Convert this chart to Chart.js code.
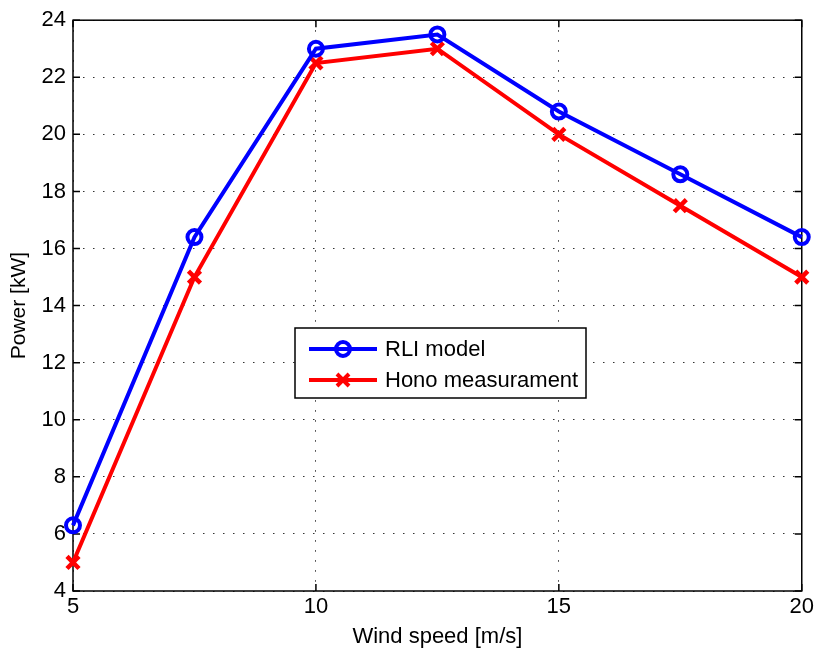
<!DOCTYPE html>
<html>
<head>
<meta charset="utf-8">
<script src="https://cdn.jsdelivr.net/npm/chart.js@4.4.1/dist/chart.umd.min.js"></script>
<style>
  html, body { margin: 0; padding: 0; background: #fff; }
  #wrap { width: 817px; height: 650px; }
</style>
</head>
<body>
<div id="wrap"><canvas id="powerChart" width="817" height="650"></canvas></div>
<script>
const windSpeed = [5, 7.5, 10, 12.5, 15, 17.5, 20];
const rliModel = [6.3, 16.4, 23.0, 23.5, 20.8, 18.6, 16.4];
const honoMeasurement = [5.0, 15.0, 22.5, 23.0, 20.0, 17.5, 15.0];
const xTicks = [5, 10, 15, 20];
const yTicks = [4, 6, 8, 10, 12, 14, 16, 18, 20, 22, 24];

const FONT = '"Liberation Sans", Arial, sans-serif';

// black box + inward ticks, MATLAB style
const boxPlugin = {
  id: 'box',
  beforeDatasetsDraw(chart) {
    const { ctx, chartArea: a, scales } = chart;
    ctx.save();
    ctx.strokeStyle = '#000';
    ctx.lineWidth = 1.5;
    ctx.setLineDash([]);
    ctx.strokeRect(a.left, a.top, a.right - a.left, a.bottom - a.top);
    const t = 7;
    ctx.beginPath();
    xTicks.forEach(v => {
      const x = scales.x.getPixelForValue(v);
      ctx.moveTo(x, a.bottom); ctx.lineTo(x, a.bottom - t);
      ctx.moveTo(x, a.top); ctx.lineTo(x, a.top + t);
    });
    yTicks.forEach(v => {
      const y = scales.y.getPixelForValue(v);
      ctx.moveTo(a.left, y); ctx.lineTo(a.left + t, y);
      ctx.moveTo(a.right, y); ctx.lineTo(a.right - t, y);
    });
    ctx.stroke();
    ctx.restore();
  }
};

// legend box inside the plot
const legendPlugin = {
  id: 'innerLegend',
  afterDraw(chart) {
    const { ctx } = chart;
    const bx = 295, by = 328, bw = 291, bh = 70;
    ctx.save();
    ctx.fillStyle = '#fff';
    ctx.fillRect(bx, by, bw, bh);
    ctx.strokeStyle = '#000';
    ctx.lineWidth = 1.5;
    ctx.strokeRect(bx, by, bw, bh);
    const rows = [349, 380];
    chart.data.datasets.forEach((ds, i) => {
      const y = rows[i];
      ctx.strokeStyle = ds.borderColor;
      ctx.lineWidth = ds.borderWidth;
      ctx.beginPath();
      ctx.moveTo(309, y); ctx.lineTo(377, y);
      ctx.stroke();
      ctx.strokeStyle = ds.pointBorderColor;
      ctx.fillStyle = ds.pointBackgroundColor;
      Chart.helpers.drawPoint(ctx, {
        pointStyle: ds.pointStyle,
        radius: ds.pointRadius,
        borderWidth: ds.pointBorderWidth
      }, 343, y);
      ctx.fillStyle = '#000';
      ctx.font = '22px ' + FONT;
      ctx.textBaseline = 'middle';
      ctx.fillText(ds.label, 385, y + 1);
    });
    ctx.restore();
  }
};

new Chart(document.getElementById('powerChart'), {
  type: 'line',
  data: {
    datasets: [
      {
        label: 'RLI model',
        data: windSpeed.map((x, i) => ({ x: x, y: rliModel[i] })),
        borderColor: '#0000ff',
        backgroundColor: 'rgba(0,0,0,0)',
        borderWidth: 4,
        pointStyle: 'circle',
        pointRadius: 7,
        pointBorderWidth: 4,
        pointBorderColor: '#0000ff',
        pointBackgroundColor: 'rgba(0,0,0,0)',
        tension: 0,
        clip: false
      },
      {
        label: 'Hono measurament',
        data: windSpeed.map((x, i) => ({ x: x, y: honoMeasurement[i] })),
        borderColor: '#ff0000',
        backgroundColor: 'rgba(0,0,0,0)',
        borderWidth: 4,
        pointStyle: 'crossRot',
        pointRadius: 8.5,
        pointBorderWidth: 4.5,
        pointBorderColor: '#ff0000',
        pointBackgroundColor: '#ff0000',
        tension: 0,
        clip: false
      }
    ]
  },
  options: {
    responsive: false,
    animation: false,
    layout: { padding: { left: 0, top: 17, right: 15, bottom: 0 } },
    plugins: {
      legend: { display: false },
      tooltip: { enabled: false }
    },
    scales: {
      x: {
        type: 'linear',
        min: 5,
        max: 20,
        afterBuildTicks(scale) { scale.ticks = xTicks.map(v => ({ value: v })); },
        afterFit(scale) { scale.height = 59; },
        grid: {
          color: '#333',
          lineWidth: 1,
          drawTicks: false
        },
        border: { display: false, dash: [1.5, 8.5] },
        ticks: {
          color: '#000',
          font: { family: FONT, size: 22 },
          padding: 3,
          maxRotation: 0
        },
        title: {
          display: true,
          text: 'Wind speed [m/s]',
          color: '#000',
          font: { family: FONT, size: 22 },
          padding: { top: 0, bottom: 0 }
        }
      },
      y: {
        min: 4,
        max: 24,
        afterBuildTicks(scale) { scale.ticks = yTicks.map(v => ({ value: v })); },
        afterFit(scale) { scale.width = 73; },
        grid: {
          color: '#333',
          lineWidth: 1,
          drawTicks: false
        },
        border: { display: false, dash: [1.5, 8.5] },
        ticks: {
          color: '#000',
          font: { family: FONT, size: 22 },
          padding: 7
        },
        title: {
          display: true,
          text: 'Power [kW]',
          color: '#000',
          font: { family: FONT, size: 21 },
          padding: { top: 7, bottom: 0 }
        }
      }
    }
  },
  plugins: [boxPlugin, legendPlugin]
});
</script>
</body>
</html>
